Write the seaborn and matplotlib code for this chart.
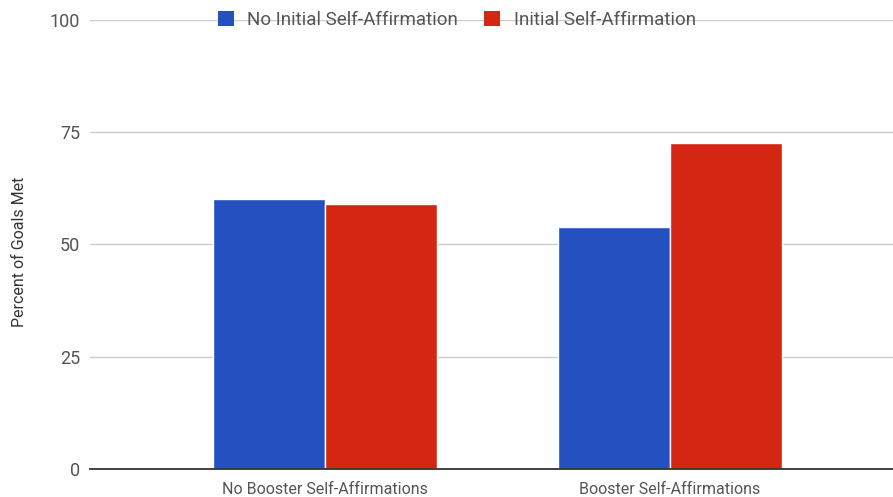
import pandas as pd
import matplotlib
matplotlib.use("Agg")
import matplotlib.pyplot as plt
import seaborn as sns

# data
conditions = ["No Booster Self-Affirmations", "Booster Self-Affirmations"]
no_initial = [60.2, 53.9]
initial = [59.0, 72.6]
series_names = ["No Initial Self-Affirmation", "Initial Self-Affirmation"]
colors = ["#2450C0", "#D32613"]

df = pd.DataFrame({
    "condition": conditions * 2,
    "series": [series_names[0]] * 2 + [series_names[1]] * 2,
    "value": no_initial + initial,
})

sns.set_style("white")
plt.rcParams["font.family"] = ["Roboto", "DejaVu Sans"]

fig = plt.figure(figsize=(8.93, 4.97), dpi=100)
ax = fig.add_axes([90 / 893, 1 - 469 / 497, 1 - 90 / 893, (469 - 20) / 497])

sns.barplot(data=df, x="condition", y="value", hue="series", palette=colors,
            width=0.65, edgecolor="white", linewidth=1, saturation=1, ax=ax)

ax.set_ylim(0, 100)
ax.set_xlim(-0.681, 1.646)
ax.set_yticks([0, 25, 50, 75, 100])
ax.yaxis.grid(True, color="#cccccc", linewidth=1)
ax.set_axisbelow(True)
for s in ["top", "right", "left"]:
    ax.spines[s].set_visible(False)
ax.spines["bottom"].set_color("#333333")
ax.spines["bottom"].set_linewidth(1.3)
ax.tick_params(axis="both", length=0, colors="#555555")
ax.tick_params(axis="y", pad=7, labelsize=13)
ax.tick_params(axis="x", pad=9, labelsize=11.5)
for lbl in ax.get_xticklabels():
    lbl.set_fontfamily(["Liberation Sans Narrow", "Roboto"])
ax.set_xlabel("")
ax.set_ylabel("Percent of Goals Met", color="#333333", fontsize=11.5)
ax.yaxis.set_label_coords(-0.078, 0.483)

leg = ax.legend(loc="center", bbox_to_anchor=(0.457, 1.0), ncol=2, frameon=False,
                fontsize=13.5, labelcolor="#555555", handlelength=0.85, handleheight=0.9,
                handletextpad=0.7, columnspacing=1.4, borderaxespad=0)
for h in leg.legend_handles:
    h.set_linewidth(0)

fig.savefig("out.png", dpi=100)
